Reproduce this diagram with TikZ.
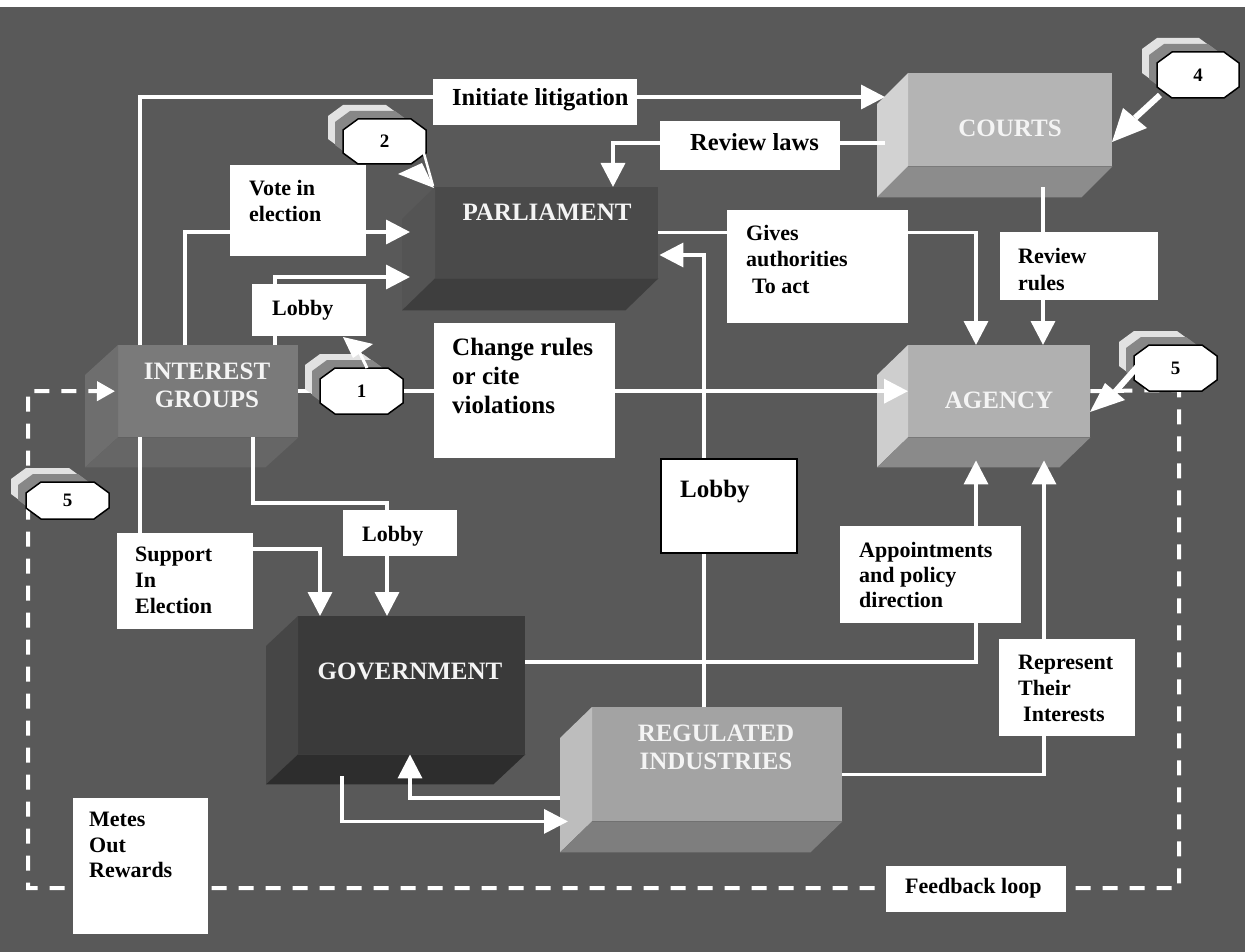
\documentclass[tikz,border=0pt]{standalone}
\usepackage{fontspec}
\setmainfont{Liberation Serif}
\usetikzlibrary{arrows.meta,calc}
\definecolor{bg}{HTML}{595959}
\definecolor{parlF}{HTML}{4A4A4A}
\definecolor{parlL}{HTML}{545454}
\definecolor{parlB}{HTML}{3E3E3E}
\definecolor{courtF}{HTML}{B4B4B4}
\definecolor{courtL}{HTML}{D2D2D2}
\definecolor{courtB}{HTML}{8C8C8C}
\definecolor{agF}{HTML}{B0B0B0}
\definecolor{agL}{HTML}{CECECE}
\definecolor{agB}{HTML}{8A8A8A}
\definecolor{igF}{HTML}{7A7A7A}
\definecolor{igL}{HTML}{6E6E6E}
\definecolor{igB}{HTML}{666666}
\definecolor{govF}{HTML}{3A3A3A}
\definecolor{govL}{HTML}{464646}
\definecolor{govB}{HTML}{2D2D2D}
\definecolor{regF}{HTML}{A3A3A3}
\definecolor{regL}{HTML}{BDBDBD}
\definecolor{regB}{HTML}{7E7E7E}
\definecolor{shLight}{HTML}{E2E2E2}
\definecolor{shMid}{HTML}{878787}
\definecolor{boxtxt}{HTML}{F4F4F4}

\newcommand{\boxfaces}[5]{%
  \fill[#4] (#1.north west) -- (#1.south west) -- ([shift={(#2,#3)}]#1.south west) -- ([shift={(#2,#3)}]#1.north west) -- cycle;
  \fill[#5] (#1.south west) -- (#1.south east) -- ([shift={(#2,#3)}]#1.south east) -- ([shift={(#2,#3)}]#1.south west) -- cycle;}
\newcommand{\calloutoct}[5]{%
  \path[#5] (#1+15,#2) -- (#3-15,#2) -- (#3,#2+11) -- (#3,#4-11) -- (#3-15,#4) -- (#1+15,#4) -- (#1,#4-11) -- (#1,#2+11) -- cycle;}
\newcommand{\callout}[6]{%
  \calloutoct{#2-15}{#3-14}{#4-25}{#5-14}{fill=shLight}
  \calloutoct{#2-8}{#3-8}{#4-16}{#5-8}{fill=shMid}
  \calloutoct{#2}{#3}{#4}{#5}{fill=white,draw=black,line width=1.5pt}
  \node[numtext] (#1) at ({(#2+#4)/2},{(#3+#5)/2}) {#6};}

\tikzset{
  conn/.style={draw=white, line width=3.5pt},
  arr/.style={conn, -{Triangle[length=24pt,width=24pt]}},
  fb/.style={draw=white, line width=4pt, dash pattern=on 15pt off 12pt},
  fbarr/.style={fb, -{Triangle[length=18pt,width=19pt]}},
  front/.style={inner sep=0pt, anchor=north west},
  lbl/.style={fill=white, inner sep=0pt, anchor=north west},
  lbltext/.style={font=\fontsize{22}{26}\selectfont\bfseries, text=black, inner sep=0pt, anchor=north west, align=left},
  boxtext/.style={font=\fontsize{25}{28}\selectfont\bfseries, text=boxtxt, inner sep=0pt, align=center},
  numtext/.style={font=\fontsize{19}{22}\selectfont\bfseries, text=black, inner sep=0pt},
}

\begin{document}
\begin{tikzpicture}[x=1pt,y=-1pt]
\useasboundingbox (0,0) rectangle (1245,952);
\fill[bg] (0,0) rectangle (1245,952);
\fill[white] (0,0) rectangle (1245,7);

% ---------- 3D boxes ----------
\node[front, fill=parlF, minimum width=223pt, minimum height=91pt] (parl) at (435,187) {};
\boxfaces{parl}{-33}{32}{parlL}{parlB}
\node[front, fill=courtF, minimum width=204pt, minimum height=93pt] (courts) at (908,73) {};
\boxfaces{courts}{-31}{31}{courtL}{courtB}
\node[front, fill=agF, minimum width=182pt, minimum height=92pt] (agency) at (908,345) {};
\boxfaces{agency}{-31}{30}{agL}{agB}
\node[front, fill=igF, minimum width=180pt, minimum height=92pt] (ig) at (118,345) {};
\boxfaces{ig}{-33}{30}{igL}{igB}
\node[front, fill=govF, minimum width=227pt, minimum height=138pt] (gov) at (298,616) {};
\boxfaces{gov}{-32}{30}{govL}{govB}
\node[front, fill=regF, minimum width=250pt, minimum height=114pt] (reg) at (592,707) {};
\boxfaces{reg}{-32}{31}{regL}{regB}

\node[boxtext] (parlt) at (547,212.5) {PARLIAMENT};
\node[boxtext] (courtst) at (1010,128.5) {COURTS};
\node[boxtext] (agencyt) at (999,400.5) {AGENCY};
\node[boxtext] (igt) at (207,385.5) {INTEREST\\GROUPS};
\node[boxtext] (govt) at (410,671.5) {GOVERNMENT};
\node[boxtext] (regt) at (716,747) {REGULATED\\INDUSTRIES};

% ---------- connectors ----------
\draw[arr] ([xshift=22pt]ig.north west) |- ([shift={(-23,24)}]courts.north west);
\draw[arr] ([shift={(-23,70)}]courts.north west) -| ([xshift=178pt]parl.north west);
\draw[arr] ([xshift=67pt]ig.north west) |- ([shift={(-25,45)}]parl.north west);
\draw[arr] ([xshift=157pt]ig.north west) |- ([shift={(-25,90)}]parl.north west);
\draw[arr] (ig.east) -- (agency.west);
\draw[arr] (parl.east) -| ([xshift=68pt]agency.north west);
\draw[arr] ([shift={(135,21)}]courts.south west) -- ([xshift=135pt]agency.north west);
\draw[arr] ([xshift=112pt]reg.north west) |- ([shift={(1,68)}]parl.north east);
\draw[arr] ([xshift=22pt]ig.south west) |- ([shift={(22,-67)}]gov.north west) -- ([xshift=22pt]gov.north west);
\draw[arr] ([xshift=135pt]ig.south west) |- ([shift={(89,-113)}]gov.north west) -- ([xshift=89pt]gov.north west);
\draw[arr] ([shift={(0,46)}]gov.north east) -| ([shift={(68,23)}]agency.south west);
\draw[arr] ([shift={(0,-47)}]reg.south east) -| ([shift={(136,23)}]agency.south west);
\draw[arr] ([shift={(44,22)}]gov.south west) |- ([xshift=-24pt]reg.south west);
\draw[arr] ([shift={(-32,91)}]reg.north west) -| ([xshift=112pt]gov.south west);
\coordinate (fbA) at (1179,390);
\coordinate (fbB) at (1179,888);
\coordinate (fbC) at (28,888);
\coordinate (fbD) at (28,391);
\draw[fbarr] (agency.east) -- (fbA) -- (fbB) -- (fbC) -- (fbD) -- ([xshift=-3pt]ig.west);

% ---------- labels ----------
\node[lbl, minimum width=204pt, minimum height=46pt] (init) at (433,79) {};
\node[lbltext, font=\fontsize{24.5}{28}\selectfont\bfseries] (initt) at (452,88.5) {Initiate litigation};
\node[lbl, minimum width=180pt, minimum height=49pt] (rlaws) at (660,121) {};
\node[lbltext, font=\fontsize{24.5}{28}\selectfont\bfseries] (rlawst) at (690,133) {Review laws};
\node[lbl, minimum width=136pt, minimum height=91pt] (vote) at (230,165) {};
\node[lbltext] (votet) at (249,180) {Vote in\\election};
\node[lbl, minimum width=114pt, minimum height=52pt] (lobA) at (252,284) {};
\node[lbltext] (lobAt) at (272,300) {Lobby};
\node[lbl, minimum width=181pt, minimum height=135pt] (chg) at (434,323) {};
\node[lbltext, font=\fontsize{25}{29}\selectfont\bfseries] (chgt) at (452,338) {Change rules\\or cite\\violations};
\node[lbl, minimum width=181pt, minimum height=113pt] (gives) at (727,210) {};
\node[lbltext, font=\fontsize{22}{26.5}\selectfont\bfseries] (givest) at (746,225) {Gives\\authorities\\\hspace*{6pt}To act};
\node[lbl, minimum width=158pt, minimum height=68pt] (rrules) at (1000,232) {};
\node[lbltext, font=\fontsize{22}{27}\selectfont\bfseries] (rrulest) at (1018,248) {Review\\rules};
\node[lbl, draw=black, line width=2pt, minimum width=136pt, minimum height=94pt] (lobB) at (660,458) {};
\node[lbltext, font=\fontsize{25}{29}\selectfont\bfseries] (lobBt) at (680,480) {Lobby};
\node[lbl, minimum width=136pt, minimum height=96pt] (supp) at (117,533) {};
\node[lbltext] (suppt) at (135,547) {Support\\In\\Election};
\node[lbl, minimum width=114pt, minimum height=46pt] (lobC) at (343,510) {};
\node[lbltext] (lobCt) at (362,526) {Lobby};
\node[lbl, minimum width=181pt, minimum height=97pt] (appt) at (840,526) {};
\node[lbltext, font=\fontsize{22}{25}\selectfont\bfseries] (apptt) at (859,542) {Appointments\\and policy\\direction};
\node[lbl, minimum width=136pt, minimum height=97pt] (repr) at (999,639) {};
\node[lbltext] (reprt) at (1018,655) {Represent\\Their\\\hspace*{5pt}Interests};
\node[lbl, minimum width=135pt, minimum height=136pt] (metes) at (73,798) {};
\node[lbltext, font=\fontsize{22}{25.5}\selectfont\bfseries] (metest) at (89,812) {Metes\\Out\\Rewards};
\node[lbl, minimum width=180pt, minimum height=46pt] (fback) at (886,866) {};
\node[lbltext] (fbackt) at (905,878) {Feedback loop};

% ---------- callouts ----------
\callout{c2}{343}{119}{426}{164}{2}
\callout{c4}{1157}{52}{1239}{98}{4}
\callout{c5r}{1134}{345}{1217}{391}{5}
\callout{c1}{320}{368}{403}{414}{1}
\callout{c5l}{26}{482}{109}{519}{5}

% pointers
\draw[white, line width=2.5pt] (423,150) -- (433,186);
\fill[white] (434,188) -- (398,174) -- (422,163) -- cycle;
\draw[white, line width=3pt] (367,368) -- (357,347);
\fill[white] (373,344) -- (343,337) -- (353,358) -- cycle;
\draw[white, line width=6pt] (1160,95) -- (1135,118);
\fill[white] (1112,142) -- (1123,108) -- (1147,128) -- cycle;
\draw[white, line width=6pt] (1138,366) -- (1115,392);
\fill[white] (1090,412) -- (1105,383) -- (1125,400) -- cycle;
\end{tikzpicture}
\end{document}
